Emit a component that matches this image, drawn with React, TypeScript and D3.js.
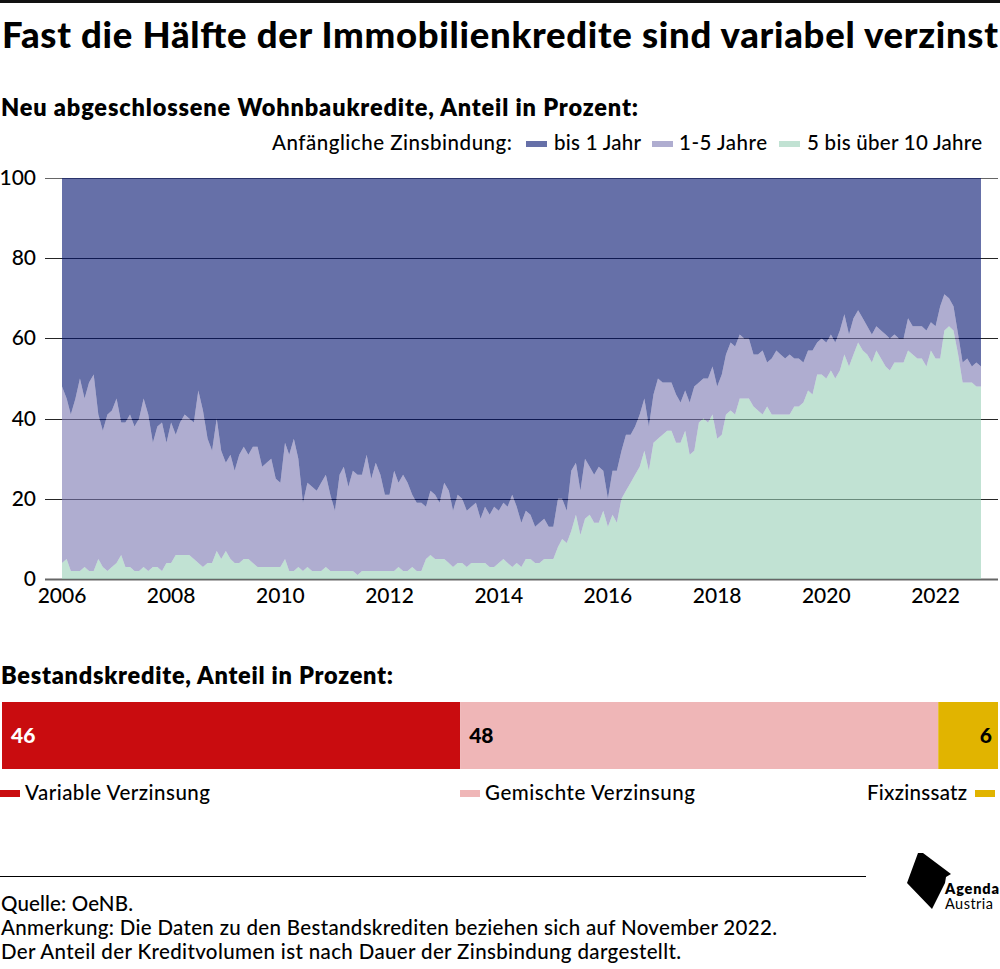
import * as d3 from 'd3';

// monthly shares, Jan 2006 - Nov 2022
const firstMonth = new Date(2006, 0, 1);
const lastMonth = new Date(2022, 10, 1);

// upper edge of the 1-5 Jahre band (everything above it is "bis 1 Jahr")
const ueber1Jahr = [
  48, 45, 41, 45, 50, 45, 49, 51, 41, 37, 41, 42,
  45, 39, 39, 41, 38, 40, 45, 41, 34, 38, 39, 34,
  39, 36, 39, 41, 40, 39, 47, 42, 35, 32, 40, 32,
  29, 31, 27, 31, 33, 31, 33, 33, 28, 29, 30, 25,
  24, 34, 31, 35, 30, 19, 24, 23, 22, 24, 26, 21,
  17, 26, 28, 23, 27, 26, 26, 31, 25, 29, 26, 21,
  21, 27, 24, 26, 24, 21, 19, 19, 18, 22, 21, 19,
  24, 22, 17, 21, 20, 17, 18, 19, 15, 18, 16, 18,
  17, 19, 18, 21, 18, 14, 17, 16, 13, 14, 15, 13,
  13, 20, 20, 17, 27, 29, 22, 30, 28, 26, 28, 27,
  20, 27, 27, 32, 36, 36, 38, 41, 45, 38, 46, 50,
  49, 49, 49, 46, 44, 47, 44, 48, 49, 50, 50, 53,
  48, 51, 56, 59, 58, 61, 60, 60, 56, 56, 57, 54,
  55, 57, 56, 55, 56, 55, 55, 54, 57, 57, 59, 60,
  59, 61, 59, 62, 66, 61, 65, 67, 65, 63, 61, 63,
  62, 61, 60, 61, 60, 60, 65, 63, 63, 63, 62, 64,
  63, 68, 71, 70, 68, 61, 54, 55, 53, 54, 53,
];

const fuenfBisUeber10 = [
  4, 5, 2, 2, 2, 3, 2, 2, 5, 3, 2, 3,
  4, 6, 3, 3, 2, 2, 3, 2, 3, 3, 2, 4,
  4, 6, 6, 6, 6, 5, 4, 3, 4, 4, 7, 5,
  7, 5, 4, 4, 5, 5, 4, 3, 3, 3, 3, 3,
  3, 5, 2, 2, 3, 2, 3, 2, 2, 2, 3, 2,
  2, 2, 2, 2, 2, 1, 2, 2, 2, 2, 2, 2,
  2, 2, 3, 2, 2, 3, 2, 2, 5, 6, 5, 5,
  5, 4, 3, 4, 4, 3, 4, 4, 4, 4, 3, 3,
  4, 5, 4, 3, 4, 3, 5, 5, 4, 4, 5, 5,
  5, 8, 10, 9, 12, 16, 11, 15, 16, 14, 14, 17,
  13, 16, 14, 20, 22, 24, 26, 28, 32, 27, 34, 35,
  36, 37, 37, 34, 34, 37, 31, 32, 39, 40, 39, 41,
  35, 36, 41, 42, 41, 45, 45, 45, 43, 42, 41, 43,
  41, 41, 41, 41, 41, 43, 43, 44, 47, 46, 51, 51,
  50, 52, 50, 52, 56, 53, 56, 59, 57, 56, 54, 57,
  55, 53, 52, 54, 54, 54, 57, 56, 55, 55, 53, 57,
  55, 55, 62, 63, 62, 56, 49, 49, 49, 48, 48,
];

const bandKeys = ['lang', 'mittel', 'kurz'];
const bandNames = ['5 bis über 10 Jahre', '1-5 Jahre', 'bis 1 Jahr'];
const bandColors = ['#98cfb6', '#7a76b1', '#00116e'];

const bestandValues = [46, 48, 6];
const bestandNames = ['Variable Verzinsung', 'Gemischte Verzinsung', 'Fixzinssatz'];
const bestandColors = ['#c90c0f', '#efb6b7', '#e1b400'];

const yTicks = [0, 20, 40, 60, 80, 100];

const FONT = 'Lato, sans-serif';

function Txt({ x, y, w, size = 20.5, weight = 500, anchor = 'start', fill = '#000', children }: any) {
  return (
    <text
      x={x}
      y={y}
      fontFamily={FONT}
      fontSize={size}
      fontWeight={weight}
      textAnchor={anchor}
      fill={fill}
      textLength={w}
      lengthAdjust={w ? 'spacing' : undefined}
    >
      {children}
    </text>
  );
}

export default function App() {
  const months = d3.timeMonth.range(firstMonth, d3.timeMonth.offset(lastMonth, 1));
  const rows = months.map((date, i) => ({
    date,
    lang: fuenfBisUeber10[i],
    mittel: ueber1Jahr[i] - fuenfBisUeber10[i],
    kurz: 100 - ueber1Jahr[i],
  }));

  const x = d3.scaleTime().domain([firstMonth, lastMonth]).range([62, 981]);
  const y = d3.scaleLinear().domain([0, 100]).range([579, 178]);
  const stack = d3.stack<any>().keys(bandKeys)(rows);
  const area = d3
    .area<any>()
    .x((d) => x(d.data.date))
    .y0((d) => y(d[0]))
    .y1((d) => y(d[1]));
  const yearTicks = x.ticks(d3.timeYear.every(2)!);

  const bar = d3.scaleLinear().domain([0, 100]).range([2, 998]);
  const bestandStack = d3.cumsum(bestandValues);

  return (
    <svg
      width={1000}
      height={969}
      viewBox="0 0 1000 969"
      style={{ position: 'absolute', top: 0, left: 0, background: '#fff' }}
    >
      <rect x={0} y={0} width={1000} height={3} fill="#111" />

      <Txt x={2} y={48} w={996} size={36.5} weight={900}>
        Fast die Hälfte der Immobilienkredite sind variabel verzinst
      </Txt>
      <Txt x={1} y={116} w={637} size={23.5} weight={800}>
        Neu abgeschlossene Wohnbaukredite, Anteil in Prozent:
      </Txt>

      {/* legend of the area chart */}
      <Txt x={272} y={150} w={240}>
        Anfängliche Zinsbindung:
      </Txt>
      <rect x={526} y={141} width={21} height={6} fill={bandColors[2]} opacity={0.6} />
      <Txt x={554} y={150} w={87}>
        {bandNames[2]}
      </Txt>
      <rect x={652} y={141} width={21} height={6} fill={bandColors[1]} opacity={0.6} />
      <Txt x={679} y={150} w={88}>
        {bandNames[1]}
      </Txt>
      <rect x={779} y={141} width={21} height={6} fill={bandColors[0]} opacity={0.6} />
      <Txt x={807} y={150} w={175}>
        {bandNames[0]}
      </Txt>

      {/* grid sits below the translucent areas */}
      {yTicks.map((t) => (
        <g key={t}>
          <line
            x1={45}
            x2={998}
            y1={Math.round(y(t)) + 0.5}
            y2={Math.round(y(t)) + 0.5}
            stroke="#000"
            strokeOpacity={t === 0 || t === 100 ? 0.6 : 0.85}
            strokeWidth={t === 0 ? 2 : 1}
          />
          <Txt x={36} y={y(t) + 7} size={21} anchor="end">
            {t}
          </Txt>
        </g>
      ))}
      {stack.map((s, i) => (
        <path key={s.key} d={area(s) || ''} fill={bandColors[i]} opacity={0.6} />
      ))}
      {yearTicks.map((d) => (
        <Txt key={d.getFullYear()} x={x(d)} y={603} size={21} anchor="middle">
          {d.getFullYear()}
        </Txt>
      ))}

      <Txt x={1} y={684} w={392} size={23.5} weight={800}>
        Bestandskredite, Anteil in Prozent:
      </Txt>

      {/* stacked bar */}
      {bestandValues.map((v, i) => (
        <rect
          key={bestandNames[i]}
          x={bar(bestandStack[i] - v)}
          y={702}
          width={bar(bestandStack[i]) - bar(bestandStack[i] - v)}
          height={67}
          fill={bestandColors[i]}
        />
      ))}
      <Txt x={bar(0) + 9} y={743} size={21} weight={900} fill="#fff">
        {bestandValues[0]}
      </Txt>
      <Txt x={bar(bestandStack[0]) + 9} y={743} size={21} weight={900}>
        {bestandValues[1]}
      </Txt>
      <Txt x={bar(100) - 6} y={743} size={21} weight={900} anchor="end">
        {bestandValues[2]}
      </Txt>

      <rect x={0} y={790} width={20} height={7} fill={bestandColors[0]} />
      <Txt x={25} y={800} w={185}>
        {bestandNames[0]}
      </Txt>
      <rect x={460} y={790} width={20} height={7} fill={bestandColors[1]} />
      <Txt x={485} y={800} w={210}>
        {bestandNames[1]}
      </Txt>
      <Txt x={867} y={800} w={100}>
        {bestandNames[2]}
      </Txt>
      <rect x={975} y={790} width={20} height={7} fill={bestandColors[2]} />

      <line x1={0} x2={866} y1={876.5} y2={876.5} stroke="#000" />
      <Txt x={1} y={911} w={132}>
        Quelle: OeNB.
      </Txt>
      <Txt x={1} y={935} w={776}>
        Anmerkung: Die Daten zu den Bestandskrediten beziehen sich auf November 2022.
      </Txt>
      <Txt x={1} y={959} w={680}>
        Der Anteil der Kreditvolumen ist nach Dauer der Zinsbindung dargestellt.
      </Txt>

      {/* logo */}
      <path d="M918 853L923 853L951 874L946 877L945 883L932 909L907 883Z" fill="#000" />
      <Txt x={945} y={894} w={54} size={14.5} weight={800}>
        Agenda
      </Txt>
      <Txt x={945} y={909} w={48} size={14.5} weight={400}>
        Austria
      </Txt>
    </svg>
  );
}
